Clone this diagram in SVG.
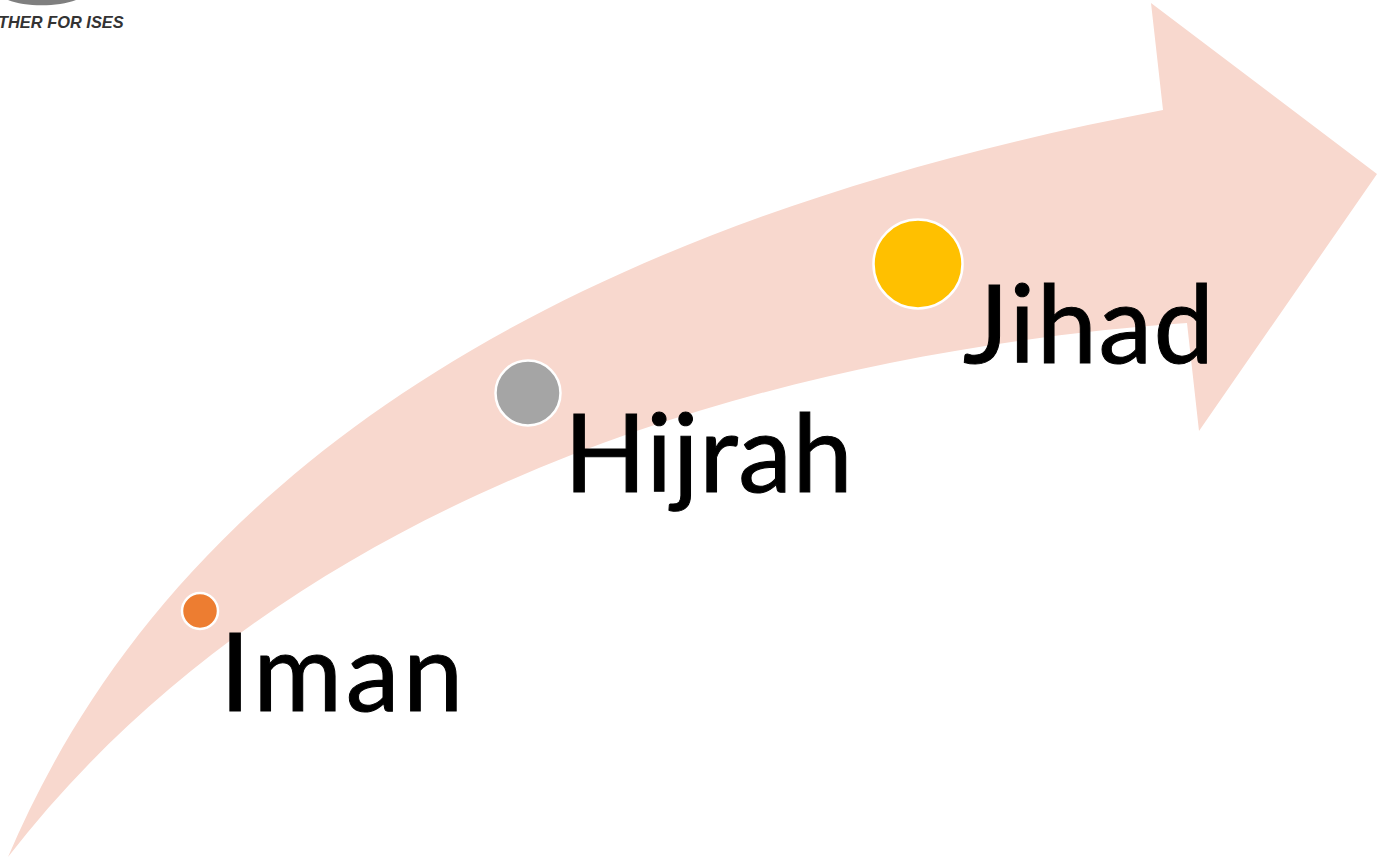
<svg xmlns="http://www.w3.org/2000/svg" width="1383" height="859" viewBox="0 0 1383 859">
<style>
.l{font-family:Lato,"Open Sans",sans-serif;font-size:108px;fill:#000;stroke:#000;stroke-width:1}
.d{stroke:#fff;stroke-width:2.5}
</style>
<rect width="1383" height="859" fill="#fff"/>
<g id="arrow"><path d="M8 857C130 570 420 250 1163 110L1151 3L1377 174L1199 431L1187 323C800 350 300 480 8 857Z" fill="#f8d8ce"/></g>
<g id="logo">
<path d="M8 0C25 7 58 7 76 0Z" fill="#7f7f7f"/>
<text x="-2" y="28" font-family="Liberation Sans,Arial,sans-serif" font-size="16.4" font-weight="bold" font-style="italic" fill="#333">THER FOR ISES</text></g>
<g id="iman"><circle class="d" cx="200" cy="611" r="18" fill="#ed7d31"/><text class="l" x="220" y="711" letter-spacing="3.7">Iman</text></g>
<g id="hijrah"><circle class="d" cx="528" cy="393" r="32.5" fill="#a5a5a5"/><text class="l" x="564" y="492" letter-spacing="0.6">Hijrah</text></g>
<g id="jihad"><circle class="d" cx="918" cy="264" r="44.5" fill="#ffc000"/><text class="l" x="963" y="363" letter-spacing="1.5">Jihad</text></g>
<g id="connectors"/>
</svg>
